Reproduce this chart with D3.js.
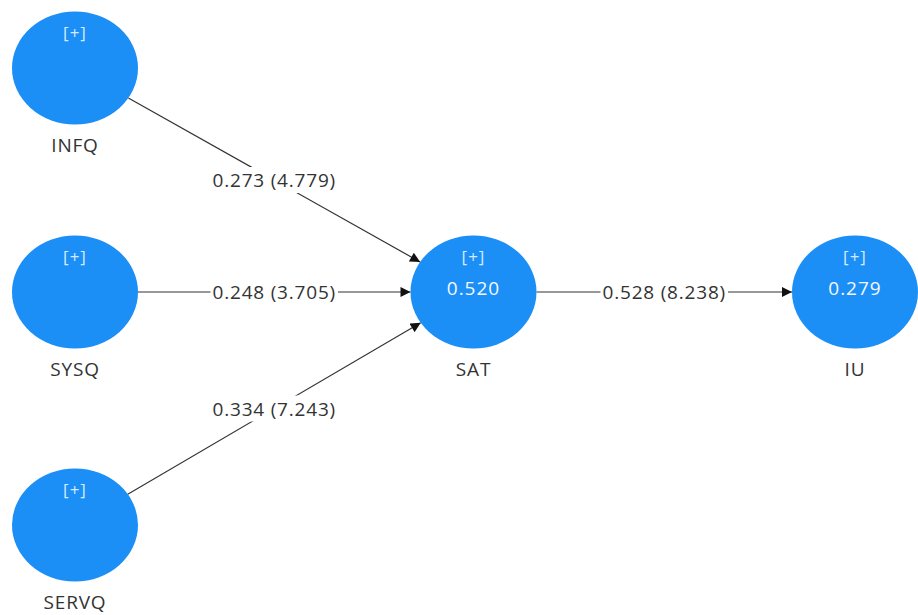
<!DOCTYPE html>
<html>
<head>
<meta charset="utf-8">
<script src="https://cdn.jsdelivr.net/npm/d3@7"></script>
<style>
  html, body { margin: 0; padding: 0; background: #fff; }
  svg { display: block; }
  text { font-family: "Open Sans", "Noto Sans", sans-serif; }
</style>
</head>
<body>
<svg id="chart" width="918" height="615"></svg>
<script>
// Constructs of the structural model and their R² (null for exogenous ones)
const constructs = ["INFQ", "SYSQ", "SERVQ", "SAT", "IU"];
const rSquared   = [null, null, null, 0.520, 0.279];
const layer      = ["exo", "exo", "exo", "mediator", "outcome"];
const slot       = ["top", "middle", "bottom", "middle", "middle"];

// Structural paths: coefficient (t statistic)
const pathFrom  = ["INFQ", "SYSQ", "SERVQ", "SAT"];
const pathTo    = ["SAT", "SAT", "SAT", "IU"];
const pathCoef  = [0.273, 0.248, 0.334, 0.528];
const pathTstat = [4.779, 3.705, 7.243, 8.238];

const svg = d3.select("#chart");

// Layout scales
const x = d3.scaleOrdinal().domain(["exo", "mediator", "outcome"]).range([75, 473.5, 855]);
const y = d3.scaleOrdinal().domain(["top", "middle", "bottom"]).range([68, 292, 525]);
const RX = 63, RY = 56.5;

const nodes = constructs.map((name, i) => ({
  name, r2: rSquared[i], cx: x(layer[i]), cy: y(slot[i])
}));
const byName = new Map(nodes.map(n => [n.name, n]));

const edges = pathFrom.map((f, i) => ({
  source: byName.get(f), target: byName.get(pathTo[i]),
  coef: pathCoef[i], t: pathTstat[i]
}));

// Point on an ellipse boundary in the direction (dx, dy)
function boundary(n, dx, dy) {
  const k = 1 / Math.sqrt((dx / RX) ** 2 + (dy / RY) ** 2);
  return [n.cx + dx * k, n.cy + dy * k];
}

svg.append("defs").append("marker")
  .attr("id", "arrow")
  .attr("viewBox", "0 0 10 10")
  .attr("refX", 10).attr("refY", 5)
  .attr("markerWidth", 11).attr("markerHeight", 10)
  .attr("markerUnits", "userSpaceOnUse")
  .attr("orient", "auto")
  .append("path")
  .attr("d", "M0,0 L10,5 L0,10 Z")
  .attr("fill", "#111");

const fmt = d3.format(".3f");

// Paths
const eg = svg.append("g");
edges.forEach(e => {
  const dx = e.target.cx - e.source.cx, dy = e.target.cy - e.source.cy;
  const [x1, y1] = boundary(e.source, dx, dy);
  const [x2, y2] = boundary(e.target, -dx, -dy);
  eg.append("line")
    .attr("x1", x1).attr("y1", y1).attr("x2", x2).attr("y2", y2)
    .attr("stroke", "#333").attr("stroke-width", 1.2)
    .attr("marker-end", "url(#arrow)");

  const mx = (e.source.cx + e.target.cx) / 2, my = (e.source.cy + e.target.cy) / 2;
  const lg = eg.append("g");
  const bg = lg.append("rect").attr("fill", "#fff");
  const txt = lg.append("text")
    .attr("x", mx).attr("y", my)
    .attr("text-anchor", "middle").attr("dominant-baseline", "central")
    .attr("font-size", 19).attr("letter-spacing", 0.8).attr("fill", "#333")
    .text(`${fmt(e.coef)} (${fmt(e.t)})`);
  const b = txt.node().getBBox();
  bg.attr("x", b.x - 2).attr("y", b.y).attr("width", b.width + 4).attr("height", b.height);
});

// Constructs
const ng = svg.append("g").selectAll("g").data(nodes).join("g");
ng.append("ellipse")
  .attr("cx", d => d.cx).attr("cy", d => d.cy)
  .attr("rx", RX).attr("ry", RY)
  .attr("fill", "#1b8ff6");
ng.append("text")
  .attr("x", d => d.cx).attr("y", d => d.cy - 36)
  .attr("text-anchor", "middle").attr("dominant-baseline", "central")
  .attr("font-size", 17).attr("letter-spacing", 1).attr("fill", "#d4eaff")
  .text("[+]");
ng.filter(d => d.r2 != null).append("text")
  .attr("x", d => d.cx).attr("y", d => d.cy - 4)
  .attr("text-anchor", "middle").attr("dominant-baseline", "central")
  .attr("font-size", 19).attr("letter-spacing", 1).attr("fill", "#f2f8ff")
  .text(d => fmt(d.r2));
ng.append("text")
  .attr("x", d => d.cx).attr("y", d => d.cy + 77)
  .attr("text-anchor", "middle").attr("dominant-baseline", "central")
  .attr("font-size", 19).attr("letter-spacing", 0.8).attr("fill", "#333")
  .text(d => d.name);
</script>
</body>
</html>
